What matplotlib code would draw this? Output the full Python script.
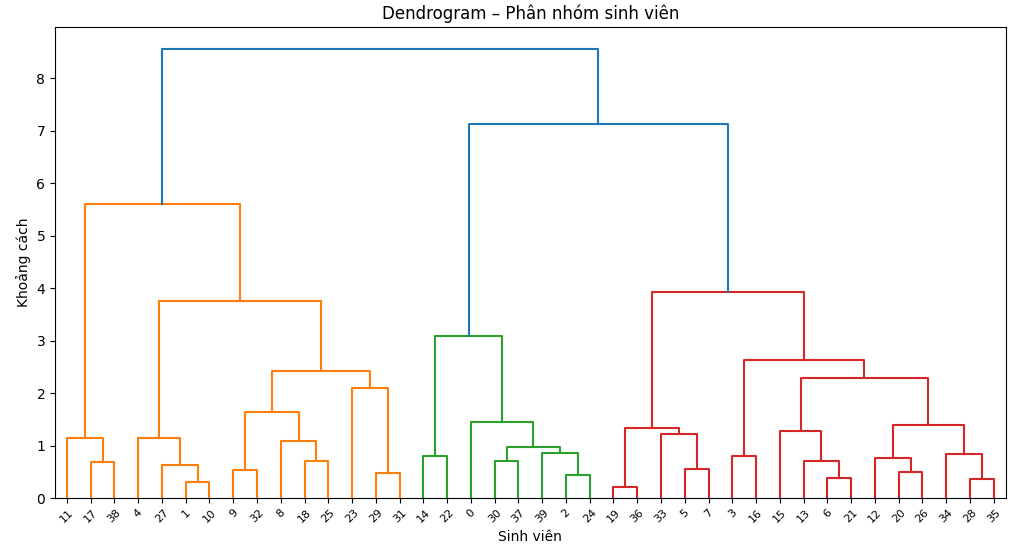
import matplotlib.pyplot as plt

# Leaf labels in the order they appear along the x axis
leaf_order = [11, 17, 38, 4, 27, 1, 10, 9, 32, 8, 18, 25, 23, 29, 31,
              14, 22, 0, 30, 37, 39, 2, 24, 19, 36, 33, 5, 7, 3, 16,
              15, 13, 6, 21, 12, 20, 26, 34, 28, 35]
n_leaves = len(leaf_order)

# Linkage table (scipy style): ids >= n_leaves refer to earlier merges
merge_a = [19, 1, 28, 6, 2, 29, 20, 9, 5, 27, 17, 30, 18, 13, 12, 3, 14, 34, 39,
           51, 8, 11, 4, 33, 15, 40, 54, 0, 47, 23, 64, 68, 55, 56, 62, 65, 61, 73, 76]
merge_b = [36, 10, 35, 21, 24, 31, 26, 32, 7, 41, 38, 37, 25, 43, 46, 16, 22, 42, 44,
           58, 52, 50, 49, 48, 53, 63, 57, 59, 60, 45, 66, 69, 70, 67, 71, 72, 74, 75, 77]
merge_h = [0.21, 0.305, 0.36, 0.38, 0.44, 0.476, 0.50, 0.525, 0.56, 0.635,
           0.68, 0.70, 0.705, 0.705, 0.768, 0.806, 0.806, 0.83, 0.85, 0.964,
           1.086, 1.135, 1.14, 1.22, 1.276, 1.33, 1.396, 1.448, 1.63, 2.10,
           2.29, 2.43, 2.64, 3.085, 3.76, 3.92, 5.61, 7.12, 8.55]

cluster_colors = ['C1', 'C2', 'C3']
above_color = 'C0'
threshold = 0.7 * max(merge_h)


def main():
    # leaf x positions like scipy: 5, 15, 25, ...
    xpos = {}
    ypos = {}
    for i, leaf in enumerate(leaf_order):
        xpos[leaf] = 5 + 10 * i
        ypos[leaf] = 0.0
    for k in range(len(merge_h)):
        node = n_leaves + k
        a, b = merge_a[k], merge_b[k]
        xpos[node] = (xpos[a] + xpos[b]) / 2
        ypos[node] = merge_h[k]

    # colour each link: subtrees under the threshold get their own colour
    link_color = {}
    next_color = [0]

    def paint(node, color):
        if node < n_leaves:
            return
        k = node - n_leaves
        if color is None and merge_h[k] < threshold:
            color = cluster_colors[next_color[0] % len(cluster_colors)]
            next_color[0] += 1
        link_color[k] = color if color else above_color
        a, b = merge_a[k], merge_b[k]
        if xpos[a] > xpos[b]:
            a, b = b, a
        paint(a, color)
        paint(b, color)

    paint(n_leaves + len(merge_h) - 1, None)

    fig, ax = plt.subplots(figsize=(10.24, 5.58), dpi=100)
    fig.subplots_adjust(left=0.0537, right=0.982, top=0.9516, bottom=0.1075)

    for k in range(len(merge_h)):
        a, b = merge_a[k], merge_b[k]
        xs = [xpos[a], xpos[a], xpos[b], xpos[b]]
        ys = [ypos[a], merge_h[k], merge_h[k], ypos[b]]
        ax.plot(xs, ys, color=link_color[k], linewidth=1.5)

    ax.set_xlim(0, 10 * n_leaves)
    ax.set_ylim(0, max(merge_h) * 1.05)
    ax.set_xticks([5 + 10 * i for i in range(n_leaves)])
    ax.set_xticklabels([str(v) for v in leaf_order], rotation=45, fontsize=8)

    ax.set_title('Dendrogram – Phân nhóm sinh viên')
    ax.set_xlabel('Sinh viên')
    ax.set_ylabel('Khoảng cách')

    plt.savefig('out.png')
    plt.close()


if __name__ == "__main__":
    main()
